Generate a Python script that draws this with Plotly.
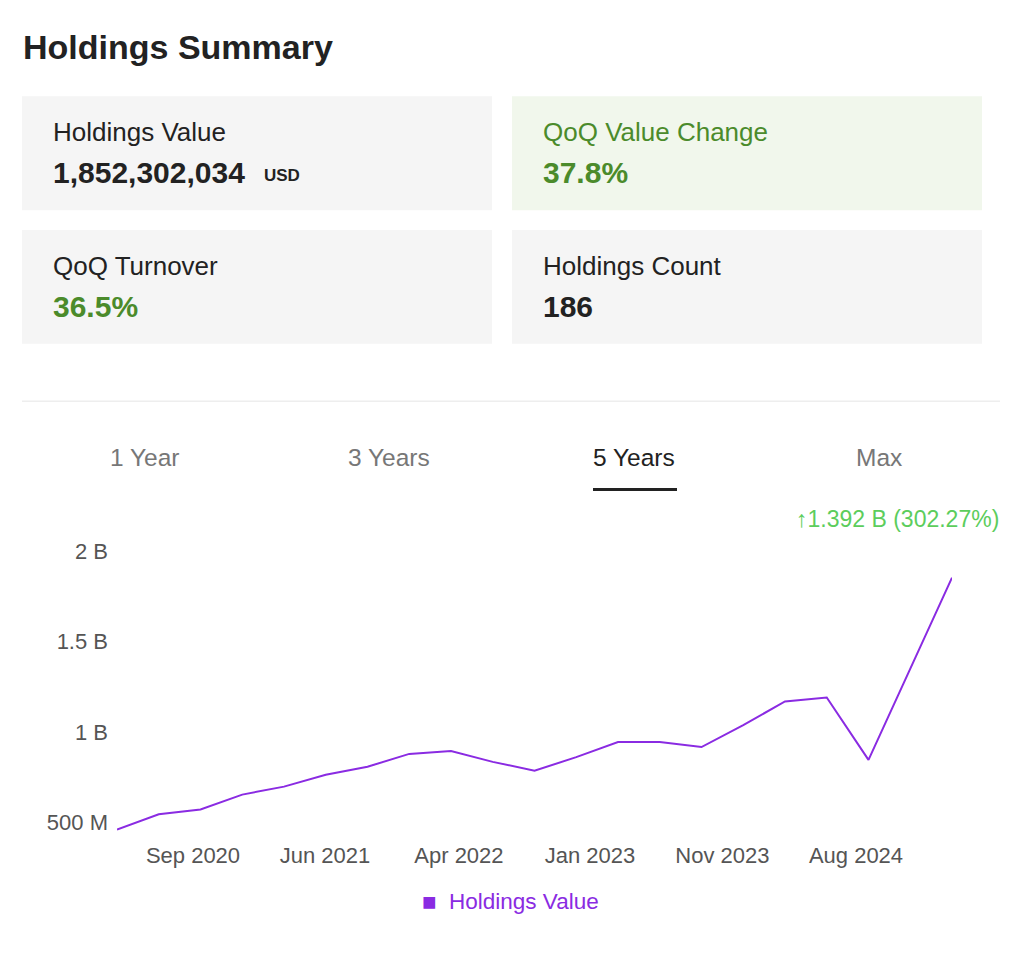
import plotly.graph_objects as go

quarters = ["Dec 2019","Mar 2020","Jun 2020","Sep 2020","Dec 2020","Mar 2021","Jun 2021","Sep 2021",
            "Dec 2021","Mar 2022","Jun 2022","Sep 2022","Dec 2022","Mar 2023","Jun 2023","Sep 2023",
            "Dec 2023","Mar 2024","Jun 2024","Sep 2024","Dec 2024"]
values_b = [0.460,0.544,0.571,0.653,0.697,0.763,0.807,0.878,0.894,0.834,0.785,0.860,
            0.944,0.944,0.916,1.037,1.168,1.190,0.845,1.350,1.852302034]
tick_labels = ["Sep 2020","Jun 2021","Apr 2022","Jan 2023","Nov 2023","Aug 2024"]
tick_pos = [1.82,4.98,8.19,11.33,14.5,17.7]
y_ticks = [0.5,1.0,1.5,2.0]
y_tick_text = ["500 M","1 B","1.5 B","2 B"]

W, H = 1024, 956
OX, OY = 8, 13
FONT = "Liberation Sans, Arial, sans-serif"
def px(x): return (x - OX) / W
def py(y): return 1 - (y - OY) / H

idx = list(range(len(quarters)))
fig = go.Figure()
fig.add_trace(go.Scatter(x=idx, y=[v * 1e9 for v in values_b], mode="lines",
                         line=dict(color="#8a2be2", width=2), name="Holdings Value",
                         text=quarters, hoverinfo="text+y", showlegend=False))

y0v, y1v = 0.445e9, 2.033e9
fig.update_layout(
    width=W, height=H, margin=dict(l=0, r=0, t=0, b=0),
    paper_bgcolor="white", plot_bgcolor="white",
    font=dict(family=FONT),
    xaxis=dict(domain=[px(117), px(952)], range=[0, 20], tickvals=tick_pos, ticktext=tick_labels,
               showgrid=False, zeroline=False, showline=False, ticks="",
               ticklabelstandoff=8,
               tickfont=dict(size=22, color="#555")),
    yaxis=dict(domain=[py(839), py(549)], range=[y0v, y1v],
               tickvals=[v * 1e9 for v in y_ticks], ticktext=y_tick_text,
               showgrid=False, zeroline=False, showline=False, ticks="", ticklen=0,
               ticklabelstandoff=8,
               tickfont=dict(size=22, color="#555")),
)

shapes = []
def rect(x0, y0, x1, y1, color):
    shapes.append(dict(type="rect", xref="paper", yref="paper", x0=px(x0), x1=px(x1),
                       y0=py(y1), y1=py(y0), fillcolor=color, line=dict(width=0), layer="below"))
rect(22, 96, 492, 211, "#f5f5f5")
rect(512, 96, 982, 211, "#f1f7ec")
rect(22, 231, 492, 346, "#f5f5f5")
rect(512, 231, 982, 346, "#f5f5f5")
shapes.append(dict(type="line", xref="paper", yref="paper", x0=px(22), x1=px(1000),
                   y0=py(404), y1=py(404), line=dict(color="#eeeeee", width=1.5)))
shapes.append(dict(type="line", xref="paper", yref="paper", x0=px(593), x1=px(677),
                   y0=py(493), y1=py(493), line=dict(color="#222", width=3)))
fig.update_layout(shapes=shapes)

anns = []
def txt(x, y, s, size, color, anchor="left", bold=False):
    anns.append(dict(xref="paper", yref="paper", x=px(x), y=py(y), text=f"<b>{s}</b>" if bold else s,
                     showarrow=False, xanchor=anchor, yanchor="middle",
                     font=dict(size=size, color=color, family=FONT)))
txt(21, 46, "Holdings Summary", 34, "#222", bold=True)
txt(51, 132, "Holdings Value", 26, "#222")
txt(51, 173, "1,852,302,034", 30, "#222", bold=True)
txt(262, 176, "USD", 17, "#222", bold=True)
txt(541, 132, "QoQ Value Change", 26, "#4b8b2b")
txt(541, 173, "37.8%", 30, "#4b8b2b", bold=True)
txt(51, 267, "QoQ Turnover", 26, "#222")
txt(51, 308, "36.5%", 30, "#4b8b2b", bold=True)
txt(541, 267, "Holdings Count", 26, "#222")
txt(541, 308, "186", 30, "#222", bold=True)
txt(145, 461, "1 Year", 24.5, "#777", "center")
txt(389, 461, "3 Years", 24.5, "#777", "center")
txt(634, 461, "5 Years", 24.5, "#222", "center")
txt(879, 461, "Max", 24.5, "#777", "center")
txt(1001, 523, "↑1.392 B (302.27%)", 23, "#5ccd5c", "right")
txt(420, 909, "■", 24, "#8a2be2")
txt(447, 909, "Holdings Value", 22.5, "#8a2be2")
fig.update_layout(annotations=anns)

fig.write_html("out.html")
